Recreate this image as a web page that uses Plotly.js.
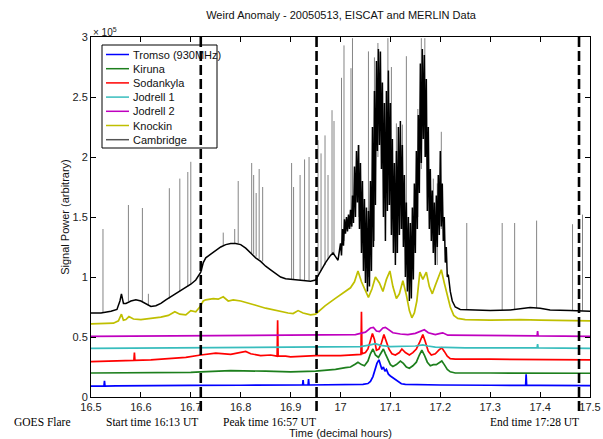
<!DOCTYPE html>
<html>
<head>
<meta charset="utf-8">
<script src="https://cdn.plot.ly/plotly-3.0.1.min.js"></script>
<style>
  html, body { margin: 0; padding: 0; background: #fff; }
  #chart { width: 603px; height: 439px; }
</style>
</head>
<body>
<div id="chart"></div>
<script>
// Signal power (units of 1e5, arbitrary) against time in decimal hours.

const tromsoT = [16.5, 16.52, 16.526, 16.527, 16.528, 16.55, 16.6, 16.7, 16.8, 16.9, 16.924, 16.925, 16.926, 16.935, 16.936, 16.937, 16.95, 17.0, 17.045, 17.055, 17.06, 17.065, 17.069, 17.073, 17.077, 17.08, 17.083, 17.086, 17.089, 17.092, 17.096, 17.1, 17.105, 17.11, 17.116, 17.122, 17.13, 17.15, 17.2, 17.3, 17.371, 17.372, 17.373, 17.4, 17.5];
const tromsoV = [0.09, 0.09, 0.09, 0.135, 0.09, 0.092, 0.095, 0.097, 0.098, 0.1, 0.1, 0.14, 0.1, 0.1, 0.15, 0.1, 0.1, 0.1, 0.105, 0.112, 0.13, 0.17, 0.22, 0.28, 0.31, 0.27, 0.23, 0.25, 0.215, 0.23, 0.19, 0.175, 0.16, 0.14, 0.125, 0.11, 0.105, 0.102, 0.1, 0.098, 0.097, 0.19, 0.097, 0.097, 0.095];

const kirunaT = [16.5, 16.6, 16.7, 16.72, 16.78, 16.85, 16.9, 16.95, 16.99, 17.01, 17.02, 17.03, 17.035, 17.042, 17.048, 17.055, 17.06, 17.065, 17.07, 17.076, 17.082, 17.086, 17.09, 17.095, 17.1, 17.105, 17.112, 17.12, 17.126, 17.132, 17.138, 17.145, 17.152, 17.158, 17.163, 17.168, 17.174, 17.18, 17.186, 17.192, 17.198, 17.203, 17.208, 17.214, 17.22, 17.23, 17.3, 17.4, 17.5];
const kirunaV = [0.2, 0.2, 0.205, 0.21, 0.22, 0.215, 0.21, 0.215, 0.23, 0.245, 0.25, 0.275, 0.29, 0.27, 0.26, 0.3, 0.36, 0.4, 0.35, 0.33, 0.37, 0.4, 0.36, 0.31, 0.27, 0.255, 0.27, 0.3, 0.28, 0.25, 0.24, 0.26, 0.29, 0.35, 0.39, 0.35, 0.29, 0.26, 0.27, 0.27, 0.29, 0.3, 0.27, 0.23, 0.21, 0.2, 0.2, 0.2, 0.198];

const sodankylaT = [16.5, 16.55, 16.586, 16.587, 16.588, 16.62, 16.65, 16.69, 16.72, 16.75, 16.78, 16.8, 16.81, 16.82, 16.84, 16.86, 16.873, 16.874, 16.875, 16.89, 16.9, 16.93, 16.95, 17.0, 17.03, 17.041, 17.042, 17.043, 17.05, 17.055, 17.06, 17.064, 17.068, 17.072, 17.077, 17.082, 17.087, 17.092, 17.097, 17.103, 17.11, 17.118, 17.123, 17.13, 17.138, 17.145, 17.152, 17.158, 17.165, 17.17, 17.176, 17.182, 17.19, 17.197, 17.203, 17.208, 17.214, 17.22, 17.23, 17.3, 17.5];
const sodankylaV = [0.295, 0.3, 0.305, 0.37, 0.305, 0.31, 0.32, 0.33, 0.35, 0.365, 0.355, 0.37, 0.38, 0.36, 0.345, 0.35, 0.34, 0.64, 0.34, 0.34, 0.335, 0.34, 0.345, 0.345, 0.35, 0.355, 0.71, 0.36, 0.37, 0.40, 0.47, 0.53, 0.48, 0.39, 0.40, 0.45, 0.52, 0.46, 0.40, 0.36, 0.35, 0.37, 0.40, 0.37, 0.35, 0.37, 0.40, 0.45, 0.52, 0.46, 0.38, 0.35, 0.36, 0.39, 0.41, 0.38, 0.34, 0.32, 0.315, 0.315, 0.31];

const jodrell1T = [16.5, 16.7, 16.8, 16.95, 17.04, 17.06, 17.07, 17.08, 17.1, 17.15, 17.165, 17.175, 17.19, 17.25, 17.394, 17.395, 17.396, 17.5];
const jodrell1V = [0.405, 0.41, 0.415, 0.42, 0.42, 0.435, 0.445, 0.43, 0.42, 0.425, 0.435, 0.425, 0.415, 0.41, 0.41, 0.44, 0.41, 0.405];

const jodrell2T = [16.5, 16.7, 16.95, 17.03, 17.05, 17.06, 17.066, 17.072, 17.078, 17.085, 17.09, 17.096, 17.105, 17.12, 17.135, 17.15, 17.16, 17.168, 17.176, 17.19, 17.2, 17.205, 17.215, 17.3, 17.394, 17.395, 17.396, 17.5];
const jodrell2V = [0.505, 0.51, 0.515, 0.52, 0.54, 0.575, 0.58, 0.55, 0.545, 0.575, 0.58, 0.56, 0.535, 0.525, 0.52, 0.53, 0.55, 0.56, 0.535, 0.52, 0.53, 0.535, 0.515, 0.51, 0.51, 0.55, 0.51, 0.505];

const knockinT = [16.5, 16.52, 16.545, 16.555, 16.561, 16.565, 16.57, 16.576, 16.585, 16.6, 16.62, 16.64, 16.655, 16.668, 16.678, 16.69, 16.7, 16.71, 16.718, 16.725, 16.73, 16.745, 16.755, 16.765, 16.775, 16.785, 16.8, 16.815, 16.83, 16.85, 16.865, 16.88, 16.895, 16.905, 16.915, 16.925, 16.94, 16.95, 16.969, 16.989, 17.005, 17.02, 17.028, 17.035, 17.042, 17.05, 17.056, 17.063, 17.07, 17.078, 17.085, 17.092, 17.099, 17.105, 17.112, 17.118, 17.125, 17.132, 17.138, 17.143, 17.148, 17.153, 17.159, 17.165, 17.172, 17.178, 17.184, 17.19, 17.196, 17.202, 17.208, 17.214, 17.22, 17.227, 17.235, 17.25, 17.3, 17.36, 17.4, 17.5];
const knockinV = [0.61, 0.61, 0.615, 0.635, 0.69, 0.64, 0.645, 0.67, 0.65, 0.645, 0.655, 0.665, 0.68, 0.71, 0.69, 0.685, 0.72, 0.71, 0.75, 0.80, 0.81, 0.82, 0.815, 0.835, 0.80, 0.81, 0.80, 0.785, 0.765, 0.74, 0.725, 0.715, 0.70, 0.695, 0.72, 0.70, 0.685, 0.69, 0.76, 0.82, 0.865, 0.91, 0.96, 1.05, 0.96, 0.88, 0.83, 0.90, 1.0, 0.95, 0.88, 0.98, 1.05, 0.92, 0.82, 0.86, 0.97, 0.85, 0.72, 0.66, 0.70, 0.80, 1.04, 0.98, 1.04, 0.92, 0.86, 0.93, 1.0, 1.06, 0.95, 0.85, 0.75, 0.68, 0.655, 0.645, 0.64, 0.645, 0.64, 0.635];

const cambridgeT = [16.5, 16.52, 16.54, 16.552, 16.558, 16.561, 16.565, 16.57, 16.58, 16.59, 16.6, 16.61, 16.62, 16.63, 16.64, 16.65, 16.66, 16.67, 16.68, 16.69, 16.7, 16.71, 16.72, 16.725, 16.73, 16.74, 16.75, 16.76, 16.77, 16.78, 16.79, 16.8, 16.81, 16.82, 16.83, 16.84, 16.85, 16.86, 16.87, 16.88, 16.89, 16.9, 16.91, 16.92, 16.93, 16.94, 16.95, 16.96, 16.97, 16.98, 16.985, 16.99, 16.995,
  17.000, 17.002, 17.004, 17.006, 17.008, 17.010, 17.012, 17.014, 17.016, 17.018,
  17.020, 17.022, 17.024, 17.026, 17.028, 17.030, 17.032, 17.034, 17.036, 17.038,
  17.040, 17.042, 17.044, 17.046, 17.048, 17.050, 17.052, 17.054, 17.056, 17.058,
  17.060, 17.062, 17.064, 17.066, 17.068, 17.070, 17.072, 17.074, 17.076, 17.078,
  17.080, 17.082, 17.084, 17.086, 17.088, 17.090, 17.092, 17.094, 17.096, 17.098,
  17.100, 17.102, 17.104, 17.106, 17.108, 17.110, 17.112, 17.114, 17.116, 17.118,
  17.120, 17.122, 17.124, 17.126, 17.128, 17.130, 17.132, 17.134, 17.136, 17.138,
  17.140, 17.142, 17.144, 17.146, 17.148, 17.150, 17.152, 17.154, 17.156, 17.158,
  17.160, 17.162, 17.164, 17.166, 17.168, 17.170, 17.172, 17.174, 17.176, 17.178,
  17.180, 17.182, 17.184, 17.186, 17.188, 17.190, 17.192, 17.194, 17.196, 17.198,
  17.200, 17.202, 17.204, 17.206, 17.208, 17.210, 17.212, 17.214, 17.216, 17.218, 17.220,
  17.224, 17.23, 17.24, 17.26, 17.3, 17.34, 17.36, 17.38, 17.4, 17.42, 17.46, 17.5];
const cambridgeV = [0.70, 0.70, 0.715, 0.73, 0.80, 0.86, 0.78, 0.78, 0.80, 0.81, 0.80, 0.78, 0.755, 0.76, 0.78, 0.81, 0.835, 0.86, 0.885, 0.91, 0.94, 0.975, 1.04, 1.12, 1.16, 1.19, 1.22, 1.25, 1.27, 1.28, 1.28, 1.27, 1.24, 1.20, 1.16, 1.13, 1.09, 1.06, 1.03, 1.00, 0.985, 0.98, 0.98, 0.975, 0.97, 0.965, 0.975, 1.05, 1.12, 1.18, 1.20, 1.17, 1.14,
  1.28, 1.18, 1.40, 1.26, 1.48, 1.36, 1.50, 1.38, 1.52, 1.40,
  1.56, 1.42, 1.68, 1.45, 1.92, 1.50, 2.05, 1.62, 2.10, 1.40,
  1.95, 1.20, 1.80, 1.05, 1.65, 0.95, 1.58, 0.88, 1.55, 0.92,
  1.80, 1.05, 2.25, 1.25, 2.55, 1.60, 2.80, 2.05, 2.90, 2.10,
  2.88, 1.90, 2.62, 1.50, 2.45, 1.30, 2.55, 1.55, 2.72, 1.60,
  2.45, 1.35, 2.15, 1.20, 1.95, 1.10, 2.05, 1.20, 2.25, 1.35,
  2.30, 1.40, 2.10, 1.25, 1.85, 1.00, 1.62, 0.88, 1.50, 0.80,
  1.45, 0.82, 1.58, 0.98, 1.78, 1.20, 2.05, 1.40, 2.35, 1.70,
  2.78, 1.95, 2.90, 2.15, 2.85, 2.00, 2.65, 1.55, 2.25, 1.40,
  1.90, 1.30, 1.72, 1.20, 1.62, 1.10, 1.68, 1.25, 1.85, 1.35,
  2.05, 1.42, 1.78, 1.30, 1.50, 1.12, 1.25, 1.00, 1.02, 0.92, 0.88,
  0.80, 0.75, 0.73, 0.725, 0.72, 0.725, 0.735, 0.745, 0.74, 0.725, 0.72, 0.715];

// Short interference spikes on the Cambridge receiver: time, foot and tip.
const spikeT = [16.524, 16.575, 16.603, 16.615, 16.657, 16.678, 16.694, 16.700, 16.765, 16.788, 16.795, 16.822, 16.826, 16.831, 16.837, 16.844, 16.902, 16.906, 16.919, 16.928, 16.937, 16.955, 16.961, 16.969, 16.975, 16.983, 16.987, 17.002, 17.007, 17.021, 17.024, 17.037, 17.056, 17.068, 17.075, 17.095, 17.102, 17.112, 17.124, 17.132, 17.155, 17.162, 17.169, 17.186, 17.194, 17.202, 17.253, 17.324, 17.349, 17.393, 17.465, 17.485];
const spikeTop = [1.40, 1.60, 1.575, 0.86, 1.74, 1.82, 1.875, 1.96, 1.37, 1.40, 1.80, 1.95, 1.85, 1.70, 1.90, 1.75, 1.95, 1.75, 1.85, 1.98, 2.00, 2.14, 2.03, 2.18, 1.85, 2.39, 2.30, 2.66, 2.93, 2.74, 2.99, 2.10, 2.88, 2.83, 2.95, 2.99, 2.75, 2.28, 2.27, 2.84, 2.40, 2.99, 2.99, 1.82, 1.78, 2.21, 1.45, 1.45, 1.45, 1.47, 1.44, 1.52];
const spikeBase = [0.70, 0.80, 0.80, 0.76, 0.82, 0.88, 0.92, 0.94, 1.26, 1.28, 1.28, 1.20, 1.19, 1.17, 1.15, 1.13, 0.98, 0.98, 0.975, 0.97, 0.97, 1.00, 1.05, 1.10, 1.15, 1.20, 1.19, 1.25, 1.30, 1.40, 1.42, 1.50, 1.00, 1.30, 2.00, 1.60, 1.40, 1.20, 1.40, 1.10, 1.50, 1.90, 2.00, 1.20, 1.10, 1.40, 0.725, 0.725, 0.73, 0.74, 0.72, 0.72];

// GOES flare markers (decimal hours) and their captions.
const flareTimes = [16.72, 16.952, 17.478];
const flareCaptions = ['Start time 16:13 UT', 'Peak time 16:57 UT', 'End time 17:28 UT'];

const xTickVals = [16.5, 16.6, 16.7, 16.8, 16.9, 17, 17.1, 17.2, 17.3, 17.4, 17.5];
const xTickText = ['16.5', '16.6', '16.7', '16.8', '16.9', '17', '17.1', '17.2', '17.3', '17.4', '17.5'];
const yTickVals = [0, 0.5, 1, 1.5, 2, 2.5, 3];
const yTickText = ['0', '0.5', '1', '1.5', '2', '2.5', '3'];

const seriesNames = ['Tromso (930MHz)', 'Kiruna', 'Sodankyla', 'Jodrell 1', 'Jodrell 2', 'Knockin', 'Cambridge'];
const seriesColors = ['#0000ff', '#1d7f1d', '#ff0000', '#38bdbd', '#bf00bf', '#bfbf00', '#000000'];
const seriesT = [tromsoT, kirunaT, sodankylaT, jodrell1T, jodrell2T, knockinT, cambridgeT];
const seriesV = [tromsoV, kirunaV, sodankylaV, jodrell1V, jodrell2V, knockinV, cambridgeV];

// ---- plot-area geometry in pixels ----
const PL = 91, PR = 590, PT = 37, PB = 397;
const fx = p => (p - PL) / (PR - PL);
const fy = p => (PB - p) / (PB - PT);

const FONT = 'Liberation Sans, Arial, Helvetica, sans-serif';
const SERIF = 'Liberation Serif, Times New Roman, serif';

const traces = [];
seriesNames.forEach((name, i) => {
  if (name === 'Cambridge') {
    const sx = [], sy = [];
    spikeT.forEach((t, k) => { sx.push(t, t, null); sy.push(spikeBase[k], spikeTop[k], null); });
    traces.push({ x: sx, y: sy, type: 'scatter', mode: 'lines', showlegend: false,
      line: { color: '#858585', width: 1 }, hoverinfo: 'skip', connectgaps: false });
  }
  traces.push({
    x: seriesT[i], y: seriesV[i], name: name, type: 'scatter', mode: 'lines',
    showlegend: false,
    line: { color: seriesColors[i], width: name === 'Cambridge' ? 1.5 : 1.7 }
  });
});

const shapes = [];
const annotations = [];

// legend box
const LX0 = 102, LX1 = 217, LY0 = 45, LY1 = 148, ROW0 = 54.5, ROWH = 14.2;
shapes.push({ type: 'rect', xref: 'paper', yref: 'paper', x0: fx(LX0), x1: fx(LX1), y0: fy(LY1), y1: fy(LY0),
  line: { color: '#000', width: 1 }, fillcolor: '#fff', layer: 'above' });
seriesNames.forEach((name, i) => {
  const ry = ROW0 + i * ROWH;
  shapes.push({ type: 'line', xref: 'paper', yref: 'paper', x0: fx(106), x1: fx(129), y0: fy(ry), y1: fy(ry),
    line: { color: name === 'Cambridge' ? '#555' : seriesColors[i], width: 1.5 }, layer: 'above' });
  annotations.push({ xref: 'paper', yref: 'paper', x: fx(131), y: fy(ry), xanchor: 'left', yanchor: 'middle',
    text: name, showarrow: false, font: { family: FONT, size: 11, color: '#111' } });
});

// flare markers
flareTimes.forEach(t => {
  shapes.push({ type: 'line', xref: 'x', yref: 'paper', x0: t, x1: t, y0: fy(411), y1: 1,
    line: { color: '#000', width: 2.6, dash: '10px,4px' }, layer: 'above' });
});

// flare captions beneath the axis
const capX = [152, 269, 534];
annotations.push({ xref: 'paper', yref: 'paper', x: fx(42), y: fy(422), text: 'GOES Flare', showarrow: false,
  xanchor: 'center', yanchor: 'middle', font: { family: SERIF, size: 11.5, color: '#000' } });
flareCaptions.forEach((c, i) => {
  annotations.push({ xref: 'paper', yref: 'paper', x: fx(capX[i]), y: fy(422), text: c, showarrow: false,
    xanchor: 'center', yanchor: 'middle', font: { family: SERIF, size: 11.5, color: '#000' } });
});

// exponent label for the y axis
annotations.push({ xref: 'paper', yref: 'paper', x: 0, y: 1, xanchor: 'left', yanchor: 'bottom', yshift: -3,
  text: '\u00d7 10<sup>5</sup>', showarrow: false, font: { family: FONT, size: 10, color: '#222' } });

const layout = {
  width: 603, height: 439,
  margin: { l: PL, r: 603 - PR, t: PT, b: 439 - PB, pad: 0 },
  paper_bgcolor: '#fff', plot_bgcolor: '#fff',
  showlegend: false,
  title: { text: 'Weird Anomaly - 20050513, EISCAT and MERLIN Data', x: fx(341), xref: 'paper', xanchor: 'center',
    y: 1 - 15 / 439, yref: 'container', yanchor: 'middle', font: { family: FONT, size: 11, color: '#111' } },
  xaxis: {
    range: [16.5, 17.5], tickvals: xTickVals, ticktext: xTickText,
    ticks: 'inside', ticklen: 5, tickwidth: 1, tickcolor: '#000',
    showline: true, linecolor: '#000', linewidth: 1, mirror: 'ticks',
    showgrid: false, zeroline: false,
    tickfont: { family: FONT, size: 11, color: '#222' },
    title: { text: 'Time (decimal hours)', font: { family: FONT, size: 11, color: '#111' }, standoff: 22 }
  },
  yaxis: {
    range: [0, 3], tickvals: yTickVals, ticktext: yTickText,
    ticks: 'inside', ticklen: 5, tickwidth: 1, tickcolor: '#000',
    showline: true, linecolor: '#000', linewidth: 1, mirror: 'ticks',
    showgrid: false, zeroline: false,
    tickfont: { family: FONT, size: 11, color: '#222' },
    title: { text: 'Signal Power (arbitrary)', font: { family: FONT, size: 11, color: '#111' }, standoff: 0 }
  },
  shapes: shapes,
  annotations: annotations
};

Plotly.newPlot('chart', traces, layout, { displayModeBar: false, staticPlot: true });
</script>
</body>
</html>
